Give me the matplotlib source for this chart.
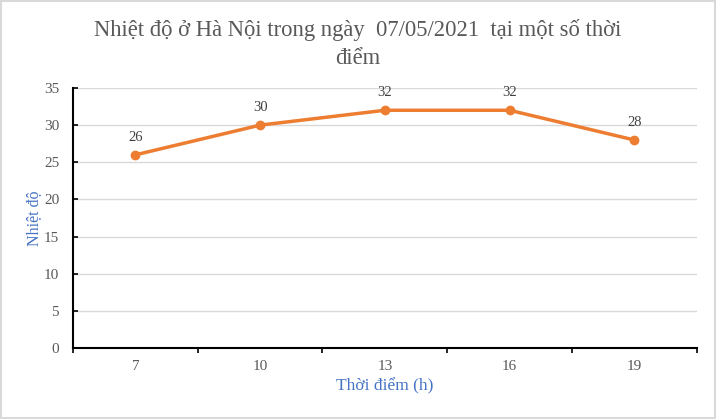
import matplotlib.pyplot as plt
import numpy as np

# data
hours = ["7", "10", "13", "16", "19"]
temps = [26, 30, 32, 32, 28]

plt.rcParams['font.family'] = ['Liberation Serif', 'DejaVu Serif']

fig = plt.figure(figsize=(7.16, 4.19), dpi=100)
ax = fig.add_axes([0.102, 0.1695, 0.871, 0.6205])

x = np.arange(len(hours))
ax.plot(x, temps, color="#ED7D31", linewidth=2.5, marker="o", markersize=6, zorder=3)
for xi, t in zip(x, temps):
    ax.annotate(str(t), (xi, t), xytext=(0, 8), textcoords="offset points",
                ha="center", va="bottom", fontsize=10.5, color="#404040")

# category axis, ticks between categories
ax.set_xlim(-0.5, len(hours) - 0.5)
ax.set_xticks(np.arange(-0.5, len(hours)), minor=False)
ax.set_xticklabels([])
ax.set_xticks(x, minor=True)
ax.set_xticklabels(hours, minor=True)
ax.tick_params(axis="x", which="major", length=3.5, width=1.2, color="black", direction="out")
ax.tick_params(axis="x", which="minor", length=0, pad=9, labelsize=11, labelcolor="#595959")

ax.set_ylim(0, 35)
ax.set_yticks(range(0, 36, 5))
ax.tick_params(axis="y", length=3.5, width=1.2, color="black", direction="in", pad=10,
               labelsize=11, labelcolor="#595959")
ax.yaxis.grid(True, color="#D9D9D9", linewidth=1)
ax.set_axisbelow(True)

for side in ["top", "right"]:
    ax.spines[side].set_visible(False)
ax.spines["left"].set_linewidth(1.5)
ax.spines["bottom"].set_linewidth(1.5)

ax.set_xlabel("Thời điểm (h)", color="#4472C4", fontsize=12.5, labelpad=3)
ax.set_ylabel("Nhiệt độ", color="#4472C4", fontsize=11.5, labelpad=1)

fig.suptitle("Nhiệt độ ở Hà Nội trong ngày  07/05/2021  tại một số thời\nđiểm",
             y=0.955, fontsize=16.3, color="#595959", linespacing=1.45)

# light border around the whole chart
fig.patches.append(plt.Rectangle((0.002, 0.003), 0.996, 0.994, transform=fig.transFigure,
                                 fill=False, edgecolor="#D9D9D9", linewidth=1.5))

fig.savefig("out.png", dpi=100)
